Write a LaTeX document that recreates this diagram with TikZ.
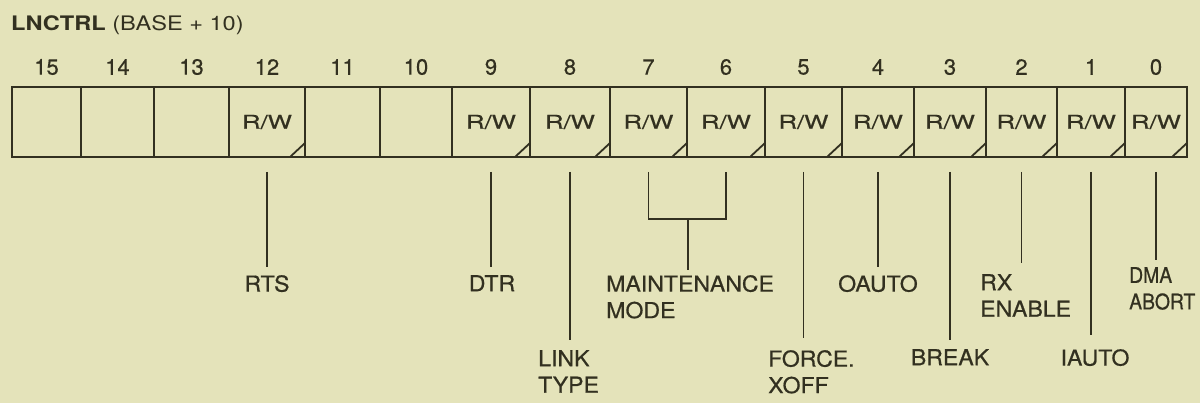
\documentclass[tikz,border=0pt]{standalone}
\usepackage{fontspec}
\setmainfont{TeX Gyre Heros}
\newfontfamily\titlefont[FakeStretch=1.18]{TeX Gyre Heros}
\newfontfamily\labelfont[FakeStretch=1.05,FakeBold=0.6]{TeX Gyre Heros}
\newfontfamily\narrowfont[FakeStretch=0.9,FakeBold=0.6]{TeX Gyre Heros}
\newfontfamily\numfont[FakeBold=0.5]{TeX Gyre Heros}
\newfontfamily\rwfont[FakeStretch=1.35,FakeBold=0.5]{TeX Gyre Heros}
\definecolor{paper}{RGB}{228,227,186}
\definecolor{ink}{RGB}{50,48,32}
\begin{document}
\begin{tikzpicture}[x=1pt,y=-1pt,
  cell/.style={draw=ink, line width=2.6pt, minimum height=70pt, inner sep=0pt, outer sep=0pt},
  rw/.style={text=ink, font=\rwfont\fontsize{19}{22}\selectfont, inner sep=0pt},
  tri/.style={draw=ink, line width=1.8pt},
  bitnum/.style={text=ink, font=\numfont\fontsize{22}{26}\selectfont, inner sep=0pt},
  lbl/.style={text=ink, font=\labelfont\fontsize{22}{26.5}\selectfont, inner sep=0pt},
  lead/.style={draw=ink, line width=1.9pt}]
\useasboundingbox (0,0) rectangle (1200,403);
\fill[paper] (0,0) rectangle (1200,403);

% title
\node[text=ink, font=\titlefont\fontsize{20}{24}\selectfont, inner sep=0pt, anchor=west] (title) at (11,25) {\textbf{LNCTRL} (BASE + 10)};

% register cells, bit numbers, leader start points
\foreach \b/\l/\r in {15/12/81,14/81/154,13/154/229,12/229/305,11/305/380,10/380/452,9/452/530,8/530/610,7/610/687,6/687/765,5/765/842,4/842/914,3/914/986,2/986/1057,1/1057/1125,0/1125/1187}{
  \pgfmathsetmacro\w{\r-\l}
  \pgfmathsetmacro\cx{(\l+\r)/2}
  \node[cell, minimum width=\w pt] (c\b) at (\cx,122) {};
  \node[bitnum] (n\b) at (\cx,67) {\b};
  \coordinate (t\b) at (\cx,172);
}

% R/W marks with corner triangles
\foreach \b in {12,9,8,7,6,5,4,3,2,1,0}{
  \node[rw] (rw\b) at (c\b) {R/W};
  \draw[tri] ([xshift=-15pt]c\b.south east) -- ([yshift=14pt]c\b.south east);
}

% labels
\node[lbl, anchor=north] (rts) at (267,275) {RTS};
\node[lbl, anchor=north] (dtr) at (492,275) {DTR};
\node[lbl, anchor=north west, align=left] (link) at (538,350) {LINK\\TYPE};
\node[lbl, anchor=north west, align=left] (maint) at (606,275) {MAINTENANCE\\MODE};
\node[lbl, anchor=north west, align=left] (force) at (768,350) {FORCE.\\XOFF};
\node[lbl, anchor=north] (oauto) at (878,275) {OAUTO};
\node[lbl, anchor=north] (break) at (950,349) {BREAK};
\node[lbl, anchor=north west, align=left] (rx) at (980,274) {RX\\ENABLE};
\node[lbl, anchor=north] (iauto) at (1095,349) {IAUTO};
\node[lbl, anchor=north west, align=left, font=\narrowfont\fontsize{21.5}{26.5}\selectfont] (dma) at (1129,267) {DMA\\ABORT};

% leader lines
\draw[lead] (t12) -- ([yshift=8pt]t12 |- rts.north);
\draw[lead] (t9) -- ([yshift=8pt]t9 |- dtr.north);
\draw[lead] (t8) -- ([yshift=10pt]t8 |- link.north);
\coordinate (mj) at (688,219);
\draw[lead] (t7) -- (t7 |- mj) -- (t6 |- mj) -- (t6);
\draw[lead] (mj) -- ([yshift=5pt]mj |- maint.north);
\draw[lead] (t5) -- ([yshift=12pt]t5 |- force.north);
\draw[lead] (t4) -- ([yshift=8pt]t4 |- oauto.north);
\draw[lead] (t3) -- ([yshift=9pt]t3 |- break.north);
\draw[lead] (t2) -- ([yshift=11pt]t2 |- rx.north);
\draw[lead] (t1) -- ([yshift=14pt]t1 |- iauto.north);
\draw[lead] (t0) -- ([yshift=7pt]t0 |- dma.north);
\end{tikzpicture}
\end{document}
